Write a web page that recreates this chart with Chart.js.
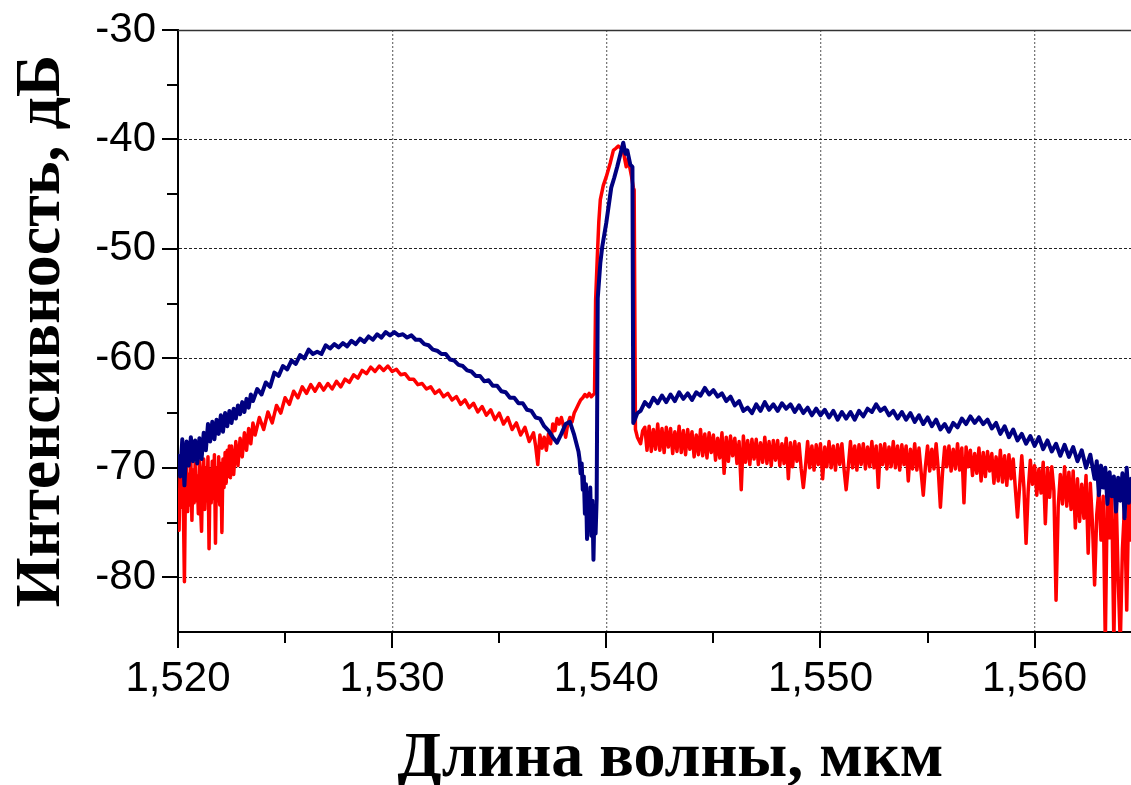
<!DOCTYPE html>
<html><head><meta charset="utf-8">
<script src="https://cdn.jsdelivr.net/npm/chart.js@4.4.1/dist/chart.umd.min.js"></script>
<style>html,body{margin:0;padding:0;background:#fff;}canvas{display:block;}</style>
</head><body>
<canvas id="c" width="1131" height="785"></canvas>
<script>
// Axis ticks
const xMajor = [1.52, 1.53, 1.54, 1.55, 1.56];
const xTickLabels = ['1,520', '1,530', '1,540', '1,550', '1,560'];
const xMinor = [1.525, 1.535, 1.545, 1.555];
const yMajor = [-80, -70, -60, -50, -40, -30];
const yTickLabels = ['-80', '-70', '-60', '-50', '-40', '-30'];
const yMinor = [-75, -65, -55, -45, -35];
const xTitle = 'Длина волны, мкм';
const yTitle = 'Интенсивность, дБ';

// Red spectrum [wavelength µm, dB]
const redSpectrum = [
[1.52000,-72.0],[1.52005,-75.7],[1.52010,-70.0],[1.52015,-73.6],[1.52020,-69.5],[1.52025,-73.5],[1.52030,-80.4],[1.52035,-71.2],[1.52040,-69.8],[1.52045,-74.0],
[1.52050,-70.6],[1.52055,-73.4],[1.52060,-69.3],[1.52065,-74.8],[1.52070,-70.2],[1.52075,-73.2],[1.52080,-69.6],[1.52085,-73.0],[1.52090,-70.8],[1.52095,-74.2],
[1.52100,-69.4],[1.52105,-73.5],[1.52110,-75.8],[1.52115,-70.4],[1.52120,-69.2],[1.52125,-73.8],[1.52130,-70.0],[1.52135,-73.0],[1.52140,-69.0],[1.52145,-77.4],
[1.52150,-70.2],[1.52155,-73.2],[1.52160,-69.4],[1.52165,-72.8],[1.52170,-68.8],[1.52175,-76.9],[1.52180,-70.0],[1.52185,-73.0],[1.52190,-69.0],[1.52195,-73.4],
[1.52200,-69.6],[1.52205,-75.9],[1.52210,-69.2],[1.52215,-71.8],[1.52220,-68.6],[1.52225,-71.4],[1.52230,-68.4],[1.52235,-70.8],[1.52240,-68.0],[1.52245,-70.9],
[1.52250,-68.0],[1.52260,-70.6],[1.52270,-67.6],[1.52280,-69.8],[1.52290,-67.3],[1.52300,-69.0],[1.52310,-66.8],[1.52320,-68.4],[1.52330,-66.4],[1.52340,-67.8],
[1.52350,-65.9],[1.52360,-67.0],
[1.52380,-65.4],[1.52400,-66.5],[1.52420,-64.9],[1.52440,-65.9],[1.52460,-64.3],[1.52480,-65.0],[1.52500,-63.6],[1.52520,-64.2],[1.52540,-63.0],[1.52560,-63.6],
[1.52580,-62.6],[1.52600,-63.2],[1.52620,-62.4],[1.52640,-63.0],[1.52660,-62.3],[1.52680,-62.9],[1.52700,-62.3],[1.52720,-62.8],[1.52740,-62.1],[1.52760,-62.6],
[1.52780,-61.9],[1.52800,-62.2],[1.52820,-61.5],[1.52840,-61.8],[1.52860,-61.1],[1.52880,-61.4],[1.52900,-60.8],[1.52920,-61.2],[1.52940,-60.7],[1.52960,-61.1],
[1.52980,-60.7],[1.53000,-61.2],[1.53020,-61.0],[1.53040,-61.5],[1.53060,-61.4],[1.53080,-61.9],[1.53100,-61.9],[1.53120,-62.4],[1.53140,-62.3],[1.53160,-62.8],
[1.53180,-62.6],[1.53200,-63.2],[1.53220,-62.9],[1.53240,-63.5],[1.53260,-63.2],[1.53280,-63.8],[1.53300,-63.5],[1.53320,-64.2],[1.53340,-63.8],[1.53360,-64.5],
[1.53380,-64.1],[1.53400,-64.9],[1.53420,-64.4],[1.53440,-65.2],[1.53460,-64.7],[1.53480,-65.6],[1.53500,-65.0],[1.53520,-66.0],[1.53540,-65.4],[1.53560,-66.5],
[1.53580,-65.9],[1.53600,-67.0],[1.53620,-66.3],[1.53640,-67.6],[1.53660,-66.8],
[1.53670,-68.0],[1.53680,-69.7],[1.53690,-67.0],[1.53700,-68.2],[1.53710,-67.2],[1.53720,-68.4],[1.53730,-66.9],[1.53740,-67.8],[1.53750,-66.0],[1.53760,-66.6],
[1.53770,-65.5],[1.53780,-66.0],[1.53790,-65.4],[1.53800,-66.2],[1.53810,-67.2],[1.53820,-66.0],[1.53830,-65.4],[1.53840,-65.8],[1.53850,-65.0],[1.53860,-64.6],
[1.53870,-64.2],[1.53880,-63.8],[1.53890,-63.6],[1.53900,-63.3],[1.53910,-63.5],[1.53920,-63.2],[1.53930,-63.5],[1.53945,-63.2],
[1.53950,-54.7],[1.53958,-50.7],[1.53965,-47.5],[1.53972,-45.5],[1.53986,-44.2],[1.54000,-43.4],[1.54019,-42.1],[1.54033,-41.0],[1.54045,-40.8],[1.54056,-40.6],
[1.54068,-40.8],[1.54079,-41.0],[1.54086,-41.8],[1.54093,-42.5],[1.54103,-41.7],[1.54110,-42.6],[1.54117,-43.3],[1.54126,-44.4],[1.54130,-44.6],[1.54136,-66.5],
[1.54145,-67.2],[1.54160,-67.8],[1.54170,-66.6],
[1.5418,-66.3],[1.5419,-68.4],
[1.5420,-66.2],[1.5421,-68.5],[1.5422,-66.5],[1.5423,-68.3],[1.5424,-66.0],[1.5425,-68.4],[1.5426,-66.4],[1.5427,-68.6],[1.5428,-66.3],[1.5429,-68.1],
[1.5430,-66.4],[1.5431,-68.7],[1.5432,-66.7],[1.5433,-68.5],[1.5434,-66.2],[1.5435,-68.6],[1.5436,-66.6],[1.5437,-68.8],[1.5438,-66.5],[1.5439,-68.3],
[1.5440,-66.7],[1.5441,-69.0],[1.5442,-67.0],[1.5443,-68.8],[1.5444,-66.5],[1.5445,-68.9],[1.5446,-66.9],[1.5447,-69.1],[1.5448,-66.8],[1.5449,-68.6],
[1.5450,-67.0],[1.5451,-69.3],[1.5452,-67.3],[1.5453,-69.1],[1.5454,-66.8],[1.5455,-70.5],[1.5456,-67.2],[1.5457,-69.4],[1.5458,-67.1],[1.5459,-68.9],
[1.5460,-67.3],[1.5461,-69.6],[1.5462,-67.6],[1.5463,-72.0],[1.5464,-67.1],[1.5465,-69.5],[1.5466,-67.5],[1.5467,-69.7],[1.5468,-67.4],[1.5469,-69.2],
[1.5470,-67.4],[1.5471,-69.7],[1.5472,-67.7],[1.5473,-69.5],[1.5474,-67.2],[1.5475,-69.6],[1.5476,-67.6],[1.5477,-69.8],[1.5478,-67.5],[1.5479,-69.3],
[1.5480,-67.5],[1.5481,-69.8],[1.5482,-67.8],[1.5483,-69.6],[1.5484,-67.3],[1.5485,-71.0],[1.5486,-67.7],[1.5487,-69.9],[1.5488,-67.6],[1.5489,-69.4],
[1.5490,-67.8],[1.5491,-70.1],[1.5492,-71.8],[1.5493,-69.9],[1.5494,-67.6],[1.5495,-70.0],[1.5496,-68.0],[1.5497,-70.2],[1.5498,-67.9],[1.5499,-69.7],
[1.5500,-67.8],[1.5501,-71.0],[1.5502,-68.1],[1.5503,-69.9],[1.5504,-67.6],[1.5505,-70.0],[1.5506,-68.0],[1.5507,-70.2],[1.5508,-67.9],[1.5509,-69.7],
[1.5510,-67.8],[1.5511,-70.1],[1.5512,-72.0],[1.5513,-69.9],[1.5514,-67.6],[1.5515,-70.0],[1.5516,-68.0],[1.5517,-70.2],[1.5518,-67.9],[1.5519,-69.7],
[1.5520,-67.8],[1.5521,-70.1],[1.5522,-68.1],[1.5523,-69.9],[1.5524,-67.6],[1.5525,-70.0],[1.5526,-68.0],[1.5527,-71.8],[1.5528,-67.9],[1.5529,-69.7],
[1.5530,-67.8],[1.5531,-70.1],[1.5532,-68.1],[1.5533,-69.9],[1.5534,-67.6],[1.5535,-70.0],[1.5536,-68.0],[1.5537,-70.2],[1.5538,-67.9],[1.5539,-69.7],
[1.5540,-68.0],[1.5541,-71.2],[1.5542,-68.3],[1.5543,-70.1],[1.5544,-67.8],[1.5545,-70.2],[1.5546,-68.2],[1.5547,-70.4],[1.5548,-72.5],[1.5549,-69.9],
[1.5550,-68.0],[1.5551,-70.3],[1.5552,-68.3],[1.5553,-70.1],[1.5554,-67.8],[1.5555,-70.2],[1.5556,-73.6],[1.5557,-70.4],[1.5558,-68.1],[1.5559,-69.9],
[1.5560,-68.0],[1.5561,-70.3],[1.5562,-68.3],[1.5563,-70.1],[1.5564,-67.8],[1.5565,-70.2],[1.5566,-68.2],[1.5567,-73.2],[1.5568,-68.1],[1.5569,-69.9],
[1.5570,-68.4],[1.5571,-70.7],[1.5572,-68.7],[1.5573,-70.5],[1.5574,-68.2],[1.5575,-71.2],[1.5576,-68.6],[1.5577,-70.8],[1.5578,-68.5],[1.5579,-70.3],
[1.5580,-68.7],[1.5581,-71.4],[1.5582,-69.0],[1.5583,-71.2],[1.5584,-68.4],[1.5585,-71.3],[1.5586,-68.9],[1.5587,-71.6],[1.5588,-68.8],[1.5589,-71.0],
[1.5590,-69.2],[1.5591,-71.9],[1.5592,-74.5],[1.5593,-71.7],[1.5594,-68.9],[1.5595,-71.8],[1.5596,-76.9],[1.5597,-72.1],[1.5598,-69.3],[1.5599,-71.5],
[1.5600,-69.8],[1.5601,-72.5],[1.5602,-70.1],[1.5603,-72.3],[1.5604,-69.5],[1.5605,-75.1],[1.5606,-70.0],[1.5607,-72.7],[1.5608,-69.9],[1.5609,-72.1],
[1.5610,-82.1],[1.5611,-73.6],[1.5612,-70.6],[1.5613,-73.3],[1.5614,-69.9],[1.5615,-73.5],[1.5616,-70.4],[1.5617,-73.8],[1.5618,-70.3],[1.5619,-75.5],
[1.5620,-71.0],[1.5621,-74.9],[1.5622,-71.5],[1.5623,-74.6],[1.5624,-70.7],[1.5625,-77.8],[1.5626,-71.4],[1.5627,-75.1],[1.5628,-80.7],[1.5629,-74.3],
[1.5630,-72.0],[1.5631,-76.6],[1.5632,-72.6],[1.5633,-86.0],[1.5634,-71.6],[1.5635,-76.4],[1.5636,-72.4],[1.5637,-86.0],[1.5638,-72.2],[1.5639,-80.0],
[1.5640,-86.0],[1.5641,-77.4],[1.5642,-73.4],[1.5643,-83.0],[1.5644,-72.4],[1.5645,-76.6]
];

// Blue spectrum [wavelength µm, dB]
const blueSpectrum = [
[1.5200,-68.9],[1.5201,-70.8],[1.5202,-67.4],[1.5203,-71.6],[1.5204,-67.6],[1.5205,-69.8],[1.5206,-67.2],[1.5207,-69.4],[1.5208,-67.5],[1.5209,-69.6],
[1.5210,-67.3],[1.5211,-69.2],[1.5212,-66.8],[1.5213,-68.4],[1.5214,-66.0],[1.5215,-67.6],[1.5216,-65.8],[1.5217,-67.4],[1.5218,-65.6],[1.5219,-66.9],
[1.5220,-65.2],[1.5221,-66.7],[1.5222,-65.0],[1.5223,-66.2],[1.5224,-64.8],[1.5225,-65.9],[1.5226,-64.6],[1.5227,-65.5],[1.5228,-64.3],[1.5229,-65.1],
[1.5230,-64.0],[1.5231,-64.9],[1.5232,-63.7],[1.5233,-64.5],[1.5234,-63.3],[1.5235,-63.9],
[1.5237,-62.8],[1.5239,-63.3],[1.5241,-62.2],[1.5243,-62.6],[1.5245,-61.3],[1.5247,-61.6],[1.5249,-60.7],[1.5251,-61.0],[1.5253,-60.2],[1.5255,-60.5],
[1.5257,-59.7],[1.5259,-60.0],[1.5261,-59.2],[1.5263,-59.6],[1.5265,-59.4],[1.5267,-59.6],[1.5269,-58.8],[1.5271,-59.1],[1.5273,-58.7],[1.5275,-59.0],
[1.5277,-58.6],[1.5279,-58.9],[1.5281,-58.4],[1.5283,-58.7],[1.5285,-58.2],[1.5287,-58.5],[1.5289,-58.0],[1.5291,-58.3],[1.5293,-57.8],[1.5295,-58.1],
[1.5297,-57.6],[1.5299,-57.9],[1.5301,-57.6],[1.5303,-57.9],[1.5305,-57.8],[1.5307,-58.1],[1.5309,-57.9],[1.5311,-58.3],[1.5313,-58.3],[1.5315,-58.7],
[1.5317,-58.8],[1.5319,-59.2],[1.5321,-59.3],[1.5323,-59.6],[1.5325,-59.6],[1.5327,-60.1],[1.5329,-60.2],[1.5331,-60.6],[1.5333,-60.7],[1.5335,-61.1],
[1.5337,-61.2],[1.5339,-61.6],[1.5341,-61.6],[1.5343,-62.1],[1.5345,-62.0],[1.5347,-62.5],[1.5349,-62.5],[1.5351,-63.0],[1.5353,-63.1],[1.5355,-63.6],
[1.5357,-63.6],[1.5359,-64.1],[1.5361,-64.1],[1.5363,-64.7],[1.5365,-64.8],[1.5367,-65.4],[1.5369,-65.5],[1.5371,-66.2],[1.5373,-66.6],[1.5375,-67.2],
[1.5377,-67.7],[1.5379,-66.9],[1.5381,-66.0],[1.5383,-65.8],[1.5385,-67.0],
[1.53870,-68.5],[1.53875,-69.2],[1.53880,-70.5],[1.53885,-69.6],[1.53890,-72.0],[1.53895,-70.8],[1.53900,-74.2],[1.53905,-71.5],[1.53910,-76.5],[1.53915,-72.5],
[1.53920,-75.0],[1.53925,-71.8],[1.53930,-76.2],[1.53935,-73.0],[1.53940,-78.4],[1.53945,-73.5],[1.53950,-76.0],[1.53955,-72.8],
[1.5396,-54.5],[1.53972,-51.3],[1.53981,-49.8],[1.5400,-47.6],[1.54023,-44.4],[1.54037,-43.5],[1.54051,-42.5],[1.54065,-41.4],[1.54079,-40.3],[1.54089,-41.3],
[1.54098,-41.0],[1.54112,-42.3],[1.54122,-42.5],[1.54126,-65.9],[1.54135,-65.5],[1.54145,-65.0],
[1.5416,-64.8],[1.5418,-64.0],[1.5420,-64.4],[1.5422,-63.6],[1.5424,-64.1],[1.5426,-63.4],[1.5428,-64.0],[1.5430,-63.3],[1.5432,-63.9],[1.5434,-63.1],
[1.5436,-63.7],[1.5438,-63.2],[1.5440,-63.8],[1.5442,-63.1],[1.5444,-63.4],[1.5446,-62.7],[1.5448,-63.3],[1.5450,-62.9],[1.5452,-63.5],[1.5454,-63.2],
[1.5456,-63.9],[1.5458,-63.5],[1.5460,-64.3],[1.5462,-63.9],[1.5464,-64.8],[1.5466,-64.5],[1.5468,-65.0],[1.5470,-64.2],[1.5472,-64.8],[1.5474,-64.0],
[1.5476,-64.7],[1.5478,-64.2],[1.5480,-64.8],[1.5482,-64.1],[1.5484,-64.6],[1.5486,-64.2],[1.5488,-64.9],[1.5490,-64.3],[1.5492,-65.0],[1.5494,-64.5],
[1.5496,-65.2],[1.5498,-64.6],[1.5500,-65.2],[1.5502,-64.7],[1.5504,-65.4],[1.5506,-64.8],[1.5508,-65.6],[1.5510,-64.9],[1.5512,-65.5],[1.5514,-64.9],
[1.5516,-65.6],[1.5518,-64.8],[1.5520,-65.3],[1.5522,-64.6],[1.5524,-64.9],[1.5526,-64.2],[1.5528,-64.8],[1.5530,-64.5],[1.5532,-65.2],[1.5534,-64.8],
[1.5536,-65.5],[1.5538,-64.9],[1.5540,-65.6],[1.5542,-65.0],[1.5544,-65.8],[1.5546,-65.2],[1.5548,-66.0],[1.5550,-65.4],[1.5552,-66.2],[1.5554,-65.6],
[1.5556,-66.5],[1.5558,-66.0],[1.5560,-66.7],[1.5562,-65.9],[1.5564,-66.3],[1.5566,-65.5],[1.5568,-66.0],[1.5570,-65.3],[1.5572,-65.9],[1.5574,-65.4],
[1.5576,-66.0],[1.5578,-65.6],[1.5580,-66.4],[1.5582,-65.9],[1.5584,-66.9],[1.5586,-66.2],[1.5588,-67.2],[1.5590,-66.5],[1.5592,-67.5],[1.5594,-66.9],
[1.5596,-67.8],[1.5598,-67.1],[1.5600,-68.0],[1.5602,-67.2],[1.5604,-68.3],[1.5606,-67.5],[1.5608,-68.5],[1.5610,-67.8],[1.5612,-68.9],[1.5614,-67.9],
[1.5616,-69.0],[1.5618,-68.1],[1.5620,-69.4],[1.5622,-68.4],[1.5624,-70.0],[1.5626,-68.8],[1.5628,-71.0],[1.5629,-69.4],[1.5630,-72.5],[1.5631,-69.8],
[1.5632,-71.8],[1.5633,-70.0],[1.5634,-73.3],[1.5635,-70.4],[1.5636,-72.6],[1.5637,-70.8],[1.5638,-74.0],[1.5639,-70.9],[1.5640,-73.0],[1.5641,-70.5],
[1.5642,-74.6],[1.5643,-70.0],[1.5644,-73.2],[1.5645,-71.0]
];

const toPoints = arr => arr.map(p => ({x: p[0], y: p[1]}));
const SANS = "'Liberation Sans', Arial, sans-serif";
const SERIF = "'Liberation Serif', 'Times New Roman', serif";
const T = 'rgba(0,0,0,0)';

const tickMarks = {
  id: 'tickMarks',
  afterDraw(chart) {
    const {ctx, chartArea: a, scales: {x, y}} = chart;
    ctx.save();
    ctx.strokeStyle = '#333';
    ctx.lineWidth = 1.5;
    ctx.beginPath();
    ctx.moveTo(a.left, a.top + 0.5);
    ctx.lineTo(a.right, a.top + 0.5);
    ctx.stroke();
    ctx.strokeStyle = '#000';
    ctx.lineWidth = 2;
    ctx.beginPath();
    xMajor.forEach(v => { const p = Math.round(x.getPixelForValue(v)); ctx.moveTo(p, a.bottom); ctx.lineTo(p, a.bottom + 16); });
    xMinor.forEach(v => { const p = Math.round(x.getPixelForValue(v)); ctx.moveTo(p, a.bottom); ctx.lineTo(p, a.bottom + 11); });
    yMajor.forEach(v => { const p = Math.round(y.getPixelForValue(v)); ctx.moveTo(a.left, p); ctx.lineTo(a.left - 16, p); });
    yMinor.forEach(v => { const p = Math.round(y.getPixelForValue(v)); ctx.moveTo(a.left, p); ctx.lineTo(a.left - 11, p); });
    ctx.stroke();
    ctx.restore();
  }
};

new Chart(document.getElementById('c'), {
  type: 'line',
  data: {
    datasets: [
      { label: 'blue', data: toPoints(blueSpectrum), borderColor: '#000080', borderWidth: 4, order: 0 },
      { label: 'red', data: toPoints(redSpectrum), borderColor: '#ff0000', borderWidth: 3.5, order: 1 }
    ]
  },
  options: {
    animation: false, responsive: false, devicePixelRatio: 1,
    layout: { padding: { top: 30, left: 0, right: 0, bottom: 0 } },
    plugins: { legend: { display: false }, tooltip: { enabled: false } },
    elements: { point: { radius: 0 }, line: { tension: 0, borderJoinStyle: 'round', borderCapStyle: 'round' } },
    datasets: { line: { clip: 0 } },
    scales: {
      x: {
        type: 'linear', min: 1.52, max: 1.5645,
        afterBuildTicks: s => { s.ticks = xMajor.map(v => ({value: v})); },
        afterFit: s => { s.height = 153; s.paddingLeft = 0; s.paddingRight = 0; },
        ticks: { callback: (v, i) => xTickLabels[i], font: { family: SANS, size: 42 }, color: '#000', padding: 22, maxRotation: 0, autoSkip: false },
        grid: { drawTicks: false, lineWidth: 1.3, color: c => (c.tick && c.tick.value === 1.52) ? T : '#7a7a7a' },
        border: { display: true, color: '#000', width: 2, dash: [2, 2] },
        title: { display: true, text: '\u2002' + xTitle, color: '#000', font: { family: SERIF, size: 64, weight: 'bold' }, padding: { top: 0, bottom: -13 } }
      },
      y: {
        type: 'linear', min: -85, max: -30,
        afterBuildTicks: s => { s.ticks = yMajor.map(v => ({value: v})); },
        afterFit: s => { s.width = 178; s.paddingTop = 0; s.paddingBottom = 0; },
        ticks: { callback: v => yTickLabels[yMajor.indexOf(v)], font: { family: SANS, size: 42 }, color: '#000', padding: 22, autoSkip: false },
        grid: { drawTicks: false, lineWidth: 1, color: c => (c.tick && c.tick.value === -30) ? T : '#222' },
        border: { display: true, color: '#000', width: 2, dash: [3, 2] },
        title: { display: true, text: yTitle, color: '#000', font: { family: SERIF, size: 64, weight: 'bold' }, padding: { top: 4, bottom: 0 } }
      }
    }
  },
  plugins: [tickMarks]
});
</script>
</body></html>
